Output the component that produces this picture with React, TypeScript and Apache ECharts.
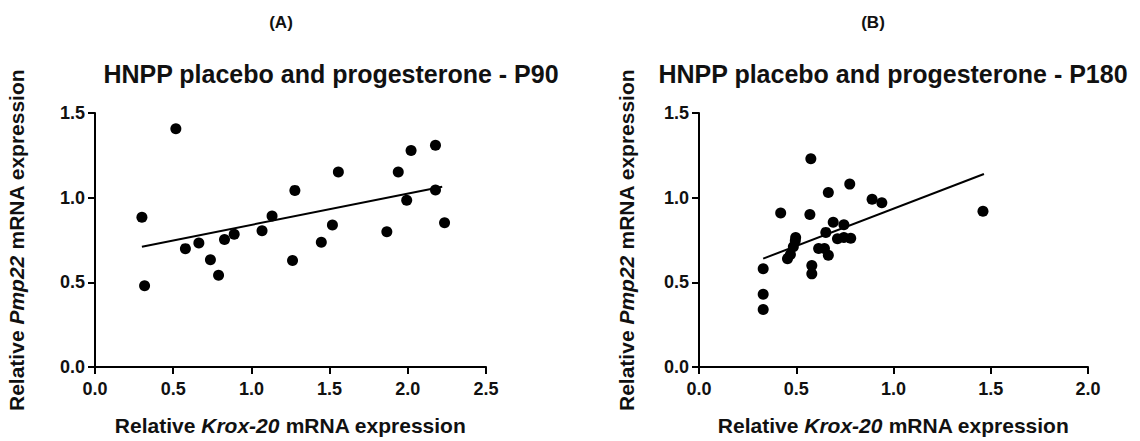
import React, { useEffect, useRef } from "react";
import * as echarts from "echarts";

// Panel A: HNPP placebo and progesterone - P90  [Krox-20, Pmp22]
const pointsA: number[][] = [
  [0.30, 0.884], [0.317, 0.48], [0.517, 1.407], [0.578, 0.699], [0.664, 0.732],
  [0.738, 0.633], [0.790, 0.542], [0.828, 0.753], [0.890, 0.784], [1.068, 0.805],
  [1.132, 0.892], [1.263, 0.629], [1.278, 1.043], [1.447, 0.737], [1.518, 0.838],
  [1.556, 1.152], [1.866, 0.799], [1.939, 1.152], [1.993, 0.985], [2.021, 1.279],
  [2.177, 1.310], [2.177, 1.045], [2.235, 0.852],
];
const fitA: number[][] = [[0.30, 0.71], [2.22, 1.065]];

// Panel B: HNPP placebo and progesterone - P180
const pointsB: number[][] = [
  [0.33, 0.58], [0.33, 0.43], [0.33, 0.34], [0.42, 0.91], [0.455, 0.64],
  [0.47, 0.665], [0.485, 0.71], [0.495, 0.745], [0.497, 0.765], [0.575, 1.23],
  [0.57, 0.90], [0.58, 0.60], [0.58, 0.55], [0.615, 0.70], [0.645, 0.70],
  [0.652, 0.795], [0.665, 1.03], [0.665, 0.66], [0.69, 0.855], [0.745, 0.84],
  [0.712, 0.758], [0.745, 0.765], [0.775, 1.08], [0.78, 0.76], [0.89, 0.99],
  [0.94, 0.97], [1.46, 0.92],
];
const fitB: number[][] = [[0.33, 0.64], [1.465, 1.14]];

const xTicksA = { min: 0, max: 2.5, interval: 0.5 };
const xTicksB = { min: 0, max: 2.0, interval: 0.5 };
const yTicks = { min: 0, max: 1.5, interval: 0.5 };

const panelLabels = ["(A)", "(B)"];
const titles = ["HNPP placebo and progesterone - P90", "HNPP placebo and progesterone - P180"];

const FONT = "'Liberation Sans', Arial, Helvetica, sans-serif";

export default function App() {
  const ref = useRef<HTMLDivElement>(null);
  useEffect(() => {
    if (!ref.current) return;
    const chart = echarts.init(ref.current, null, { renderer: "svg" });
    const nameRich = {
      n: { fontFamily: FONT, fontWeight: "bold", fontSize: 21, color: "#111" },
      i: { fontFamily: FONT, fontWeight: "bold", fontStyle: "italic", fontSize: 21, color: "#111" },
    };
    const axisCommon = {
      axisLine: { show: true, lineStyle: { color: "#000", width: 2 } },
      axisTick: { show: true, length: 7, lineStyle: { color: "#000", width: 2 } },
      splitLine: { show: false },
      axisLabel: {
        fontFamily: FONT, fontWeight: "bold", fontSize: 18, color: "#111",
        formatter: (v: number) => v.toFixed(1),
      },
    };
    const xAxis = (idx: number, ticks: any) => ({
      type: "value", gridIndex: idx, ...ticks, ...axisCommon,
      axisLabel: { ...axisCommon.axisLabel, margin: 13 },
      name: "{n|Relative }{i|Krox-20}{n| mRNA expression}",
      nameLocation: "middle", nameGap: 48,
      nameTextStyle: { rich: nameRich },
    });
    const yAxis = (idx: number, gap: number) => ({
      type: "value", gridIndex: idx, ...yTicks, ...axisCommon,
      axisLabel: { ...axisCommon.axisLabel, margin: 10 },
      name: "{n|Relative }{i|Pmp22}{n| mRNA expression}",
      nameLocation: "middle", nameGap: gap, nameRotate: 90,
      nameTextStyle: { rich: nameRich },
    });
    const scatter = (idx: number, data: number[][]) => ({
      type: "scatter", xAxisIndex: idx, yAxisIndex: idx, data,
      symbol: "circle", symbolSize: 11, itemStyle: { color: "#000", opacity: 1 },
    });
    const fit = (idx: number, data: number[][]) => ({
      type: "line", xAxisIndex: idx, yAxisIndex: idx, data,
      symbol: "none", lineStyle: { color: "#000", width: 2 }, z: 1,
    });
    chart.setOption({
      animation: false,
      backgroundColor: "#fff",
      grid: [
        { left: 95, top: 113, width: 391, height: 258 },
        { left: 699, top: 113, width: 389, height: 258 },
      ],
      xAxis: [xAxis(0, xTicksA), xAxis(1, xTicksB)],
      yAxis: [yAxis(0, 68), yAxis(1, 62)],
      series: [scatter(0, pointsA), fit(0, fitA), scatter(1, pointsB), fit(1, fitB)],
      graphic: [
        { type: "text", x: 281, y: 22, style: { text: panelLabels[0], font: `bold 17px ${FONT}`, fill: "#111", textAlign: "center", textVerticalAlign: "middle" } },
        { type: "text", x: 873, y: 22, style: { text: panelLabels[1], font: `bold 17px ${FONT}`, fill: "#111", textAlign: "center", textVerticalAlign: "middle" } },
        { type: "text", x: 331, y: 74, style: { text: titles[0], font: `bold 25px ${FONT}`, fill: "#111", textAlign: "center", textVerticalAlign: "middle" } },
        { type: "text", x: 893, y: 74, style: { text: titles[1], font: `bold 25px ${FONT}`, fill: "#111", textAlign: "center", textVerticalAlign: "middle" } },
      ],
    });
    return () => chart.dispose();
  }, []);
  return <div ref={ref} style={{ position: "fixed", left: 0, top: 0, width: 1140, height: 441 }} />;
}
